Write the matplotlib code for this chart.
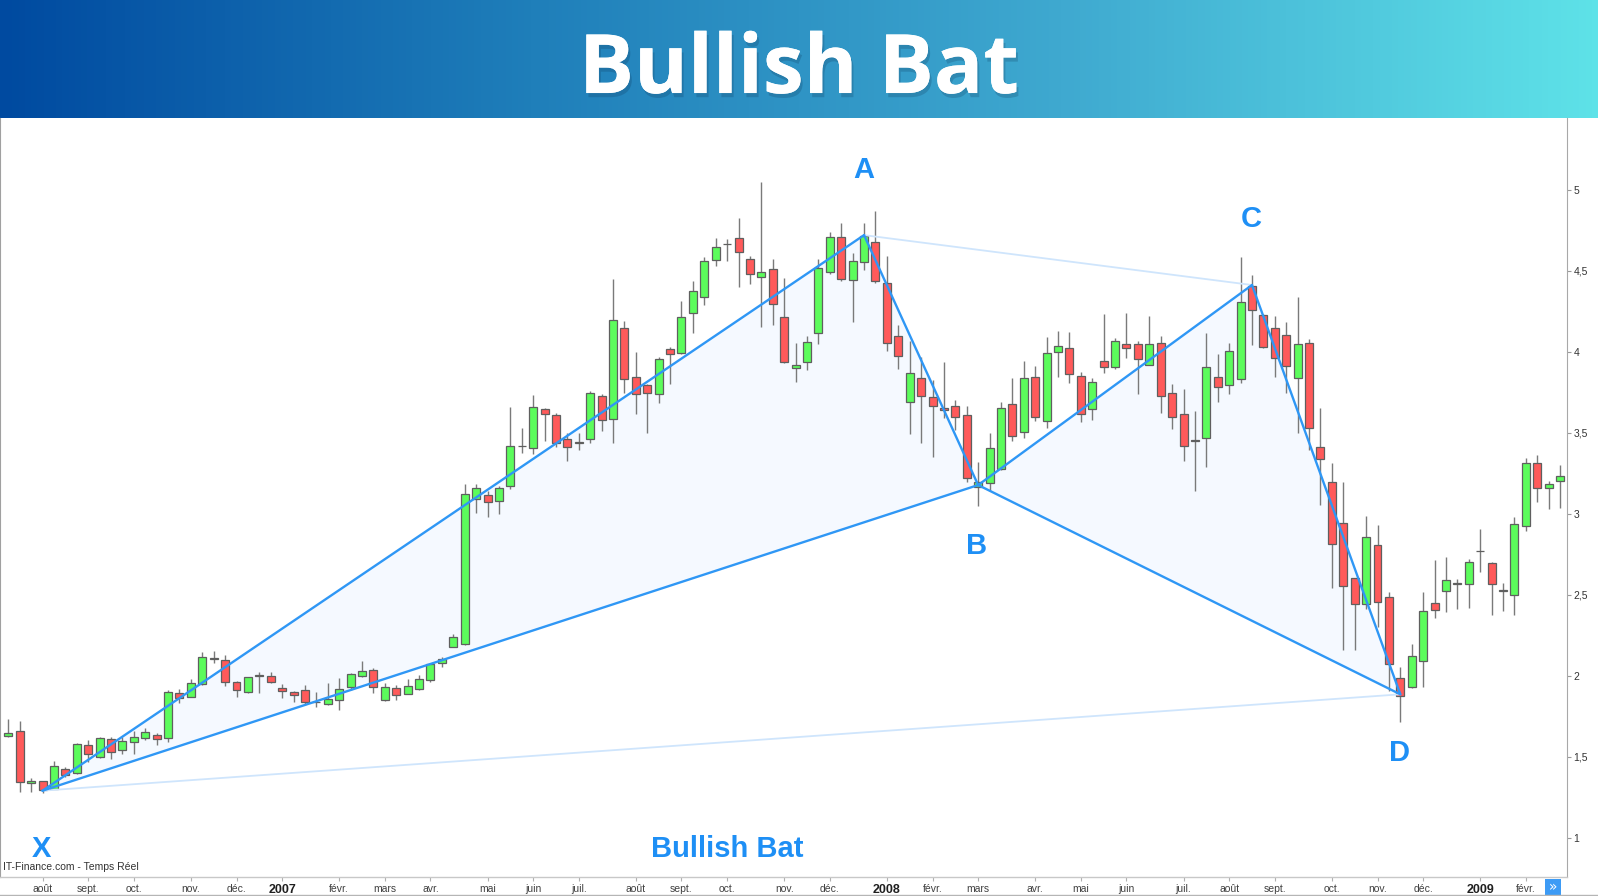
import matplotlib
matplotlib.use("Agg")
import matplotlib.pyplot as plt
import matplotlib.patheffects as pe
from matplotlib.colors import LinearSegmentedColormap
from matplotlib.patches import Polygon, Rectangle
from matplotlib.ticker import FuncFormatter, FixedLocator
import numpy as np

# Weekly OHLC candles (index 0 = mid-July 2006)
opens = [1.625, 1.657, 1.336, 1.348, 1.299, 1.422, 1.401, 1.570, 1.498, 1.607,
         1.539, 1.589, 1.614, 1.632, 1.614, 1.891, 1.870, 1.947, 2.105, 2.095,
         1.961, 1.898, 2.000, 1.996, 1.922, 1.898, 1.912, 1.836, 1.823, 1.850,
         1.928, 1.996, 2.033, 1.848, 1.922, 1.885, 1.916, 1.973, 2.077, 2.175,
         2.198, 3.089, 3.114, 3.077, 3.170, 3.418, 3.404, 3.644, 3.607, 3.459,
         3.436, 3.459, 3.728, 3.583, 4.148, 3.846, 3.796, 3.737, 4.019, 3.990,
         4.241, 4.340, 4.564, 4.663, 4.702, 4.574, 4.459, 4.512, 4.216, 3.901,
         3.935, 4.114, 4.494, 4.710, 4.443, 4.556, 4.679, 4.426, 4.099, 3.688,
         3.836, 3.719, 3.651, 3.667, 3.607, 3.167, 3.188, 3.276, 3.679, 3.502,
         3.846, 3.574, 3.996, 4.025, 3.852, 3.644, 3.944, 3.904, 4.048, 4.048,
         3.916, 4.056, 3.743, 3.614, 3.457, 3.465, 3.846, 3.793, 3.830, 4.407,
         4.225, 4.148, 4.105, 3.836, 4.052, 3.410, 3.194, 2.941, 2.601, 2.441,
         2.805, 2.488, 1.984, 1.928, 2.091, 2.447, 2.521, 2.566, 2.566, 2.768,
         2.694, 2.524, 2.498, 2.924, 3.315, 3.157, 3.202]
highs = [1.733, 1.720, 1.367, 1.350, 1.473, 1.438, 1.583, 1.603, 1.623, 1.623,
         1.620, 1.657, 1.675, 1.644, 1.912, 1.916, 1.980, 2.144, 2.152, 2.128,
         1.967, 1.994, 2.021, 2.023, 1.947, 1.906, 1.943, 1.901, 1.953, 1.984,
         2.015, 2.091, 2.046, 1.953, 1.943, 1.978, 2.004, 2.077, 2.114, 2.257,
         3.181, 3.181, 3.142, 3.171, 3.660, 3.527, 3.731, 3.650, 3.623, 3.496,
         3.496, 3.759, 3.739, 4.447, 4.191, 3.996, 3.800, 3.965, 4.031, 4.315,
         4.438, 4.586, 4.704, 4.698, 4.827, 4.590, 5.049, 4.570, 4.453, 4.052,
         4.097, 4.572, 4.741, 4.793, 4.607, 4.793, 4.869, 4.591, 4.165, 4.068,
         3.965, 3.825, 3.938, 3.702, 3.667, 3.321, 3.496, 3.691, 3.840, 3.943,
         3.914, 4.093, 4.128, 4.120, 3.877, 3.836, 4.231, 4.085, 4.237, 4.068,
         4.220, 4.099, 3.799, 3.768, 3.632, 4.114, 3.984, 4.052, 4.583, 4.473,
         4.230, 4.220, 4.181, 4.336, 4.077, 3.651, 3.311, 3.196, 2.605, 2.986,
         2.930, 2.519, 2.052, 2.196, 2.517, 2.714, 2.735, 2.595, 2.719, 2.904,
         2.704, 2.574, 2.978, 3.342, 3.362, 3.204, 3.301]
lows = [1.620, 1.284, 1.280, 1.274, 1.299, 1.377, 1.393, 1.469, 1.494, 1.484,
        1.517, 1.515, 1.603, 1.574, 1.593, 1.830, 1.867, 1.943, 2.080, 1.938,
        1.870, 1.895, 1.895, 1.953, 1.864, 1.840, 1.819, 1.805, 1.819, 1.788,
        1.912, 1.990, 1.891, 1.844, 1.850, 1.885, 1.912, 1.963, 2.052, 2.175,
        2.190, 3.002, 2.978, 2.996, 3.150, 3.377, 3.369, 3.451, 3.414, 3.327,
        3.393, 3.438, 3.512, 3.434, 3.743, 3.614, 3.496, 3.681, 3.799, 3.984,
        4.117, 4.288, 4.529, 4.562, 4.401, 4.418, 4.154, 4.165, 3.932, 3.815,
        3.887, 4.049, 4.481, 4.436, 4.185, 4.504, 4.422, 4.006, 3.893, 3.490,
        3.434, 3.352, 3.593, 3.517, 3.194, 3.049, 3.140, 3.270, 3.451, 3.469,
        3.572, 3.527, 3.842, 3.809, 3.568, 3.578, 3.867, 3.891, 3.959, 3.739,
        3.916, 3.623, 3.521, 3.327, 3.140, 3.286, 3.692, 3.739, 3.805, 4.041,
        4.021, 3.846, 3.747, 3.496, 3.393, 3.054, 2.540, 2.159, 2.159, 2.410,
        2.302, 1.907, 1.716, 1.922, 1.928, 2.354, 2.395, 2.410, 2.416, 2.642,
        2.373, 2.401, 2.373, 2.895, 3.074, 3.031, 3.037]
closes = [1.645, 1.342, 1.348, 1.294, 1.443, 1.385, 1.577, 1.515, 1.614, 1.527,
          1.595, 1.620, 1.651, 1.611, 1.899, 1.860, 1.953, 2.114, 2.108, 1.959,
          1.912, 1.990, 2.003, 1.959, 1.904, 1.879, 1.836, 1.838, 1.858, 1.920,
          2.009, 2.027, 1.930, 1.928, 1.879, 1.935, 1.978, 2.072, 2.105, 2.237,
          3.120, 3.157, 3.070, 3.157, 3.415, 3.420, 3.657, 3.614, 3.438, 3.410,
          3.440, 3.747, 3.577, 4.198, 3.830, 3.737, 3.743, 3.957, 3.988, 4.216,
          4.377, 4.562, 4.646, 4.667, 4.614, 4.481, 4.494, 4.293, 3.938, 3.918,
          4.062, 4.519, 4.710, 4.451, 4.562, 4.716, 4.438, 4.052, 3.975, 3.870,
          3.725, 3.667, 3.638, 3.595, 3.218, 3.198, 3.404, 3.651, 3.480, 3.836,
          3.595, 3.994, 4.037, 3.860, 3.614, 3.815, 3.907, 4.068, 4.025, 3.953,
          4.049, 3.727, 3.595, 3.416, 3.447, 3.907, 3.780, 4.006, 4.309, 4.256,
          4.031, 3.959, 3.910, 4.049, 3.527, 3.336, 2.811, 2.554, 2.441, 2.854,
          2.453, 2.070, 1.877, 2.123, 2.401, 2.406, 2.593, 2.570, 2.704, 2.772,
          2.566, 2.526, 2.935, 3.315, 3.157, 3.181, 3.231]

# Bat pattern pivots: (week index, price)
pivot_names = ["X", "A", "B", "C", "D"]
pivot_idx = [3, 75, 85, 109, 122]
pivot_price = [1.29, 4.72, 3.177, 4.412, 1.885]

# Month axis: week index of each label
month_idx = [3, 7, 11, 16, 20, 24, 29, 33, 37, 42, 46, 50, 55, 59, 63, 68, 72,
             77, 81, 85, 90, 94, 98, 103, 107, 111, 116, 120, 124, 129, 133]
month_labels = ["août", "sept.", "oct.", "nov.", "déc.", "2007", "févr.", "mars",
                "avr.", "mai", "juin", "juil.", "août", "sept.", "oct.", "nov.",
                "déc.", "2008", "févr.", "mars", "avr.", "mai", "juin", "juil.",
                "août", "sept.", "oct.", "nov.", "déc.", "2009", "févr."]
price_ticks = [1, 1.5, 2, 2.5, 3, 3.5, 4, 4.5, 5]

W, H = 1598, 896
fig = plt.figure(figsize=(W / 100, H / 100), dpi=100)
fig.patch.set_facecolor("white")

# ---- title banner ----
banner_h = 118.5
bax = fig.add_axes([0, 1 - banner_h / H, 1, banner_h / H])
cmap = LinearSegmentedColormap.from_list(
    "banner", ["#004aa0", "#1f7fba", "#3fa9d0", "#5ee2e8"])
grad = np.linspace(0, 1, 512).reshape(1, -1)
bax.imshow(grad, aspect="auto", cmap=cmap, extent=[0, 1, 0, 1])
bax.set_xlim(0, 1)
bax.set_ylim(0, 1)
bax.axis("off")
bax.text(0.5, 0.215, "Bullish Bat", color="white", fontsize=59,
         fontfamily="Open Sans", fontweight="bold", ha="center", va="baseline",
         path_effects=[pe.withSimplePatchShadow(offset=(1.5, -3), shadow_rgbFace="#0a2a4a",
                                                alpha=0.2), pe.Normal()])

# ---- price chart ----
bottom_px = 876.7
right_px = 1567
ax = fig.add_axes([0, 1 - bottom_px / H, right_px / W, (bottom_px - banner_h) / H])
spacing = 11.41
first_px = 8.3
ax.set_xlim((0 - first_px) / spacing, (right_px - first_px) / spacing)
ax.set_ylim(0.759, 5.44)

n = len(opens)
xs = np.arange(n)
o = np.array(opens)
c = np.array(closes)
up = c >= o
body_bottom = np.minimum(o, c)
body_height = np.abs(c - o)

# pattern triangles
X, A, B, C, D = [(pivot_idx[i], pivot_price[i]) for i in range(5)]
for tri in ([X, A, B], [B, C, D]):
    ax.add_patch(Polygon(tri, closed=True, facecolor="#f5f9ff", edgecolor="none", zorder=0))

# wicks then bodies
ax.vlines(xs, lows, highs, color="#7a7a7a", linewidth=1.0, zorder=2)
ax.bar(xs[up], body_height[up], bottom=body_bottom[up], width=0.7,
       color="#5cfc5c", edgecolor="#5f5f5f", linewidth=0.9, zorder=3)
ax.bar(xs[~up], body_height[~up], bottom=body_bottom[~up], width=0.7,
       color="#ff5a5a", edgecolor="#5f5f5f", linewidth=0.9, zorder=3)

# pattern legs
line_c = "#2f97f5"
faint_c = "#cfe5fc"
for p, q in ((X, D), (A, C)):
    ax.plot([p[0], q[0]], [p[1], q[1]], color=faint_c, lw=1.3, zorder=4,
            solid_capstyle="round")
for p, q in ((X, A), (A, B), (B, C), (C, D), (X, B), (B, D)):
    ax.plot([p[0], q[0]], [p[1], q[1]], color=line_c, lw=1.7, zorder=5,
            solid_capstyle="round")

label_c = "#1e8ff5"
label_pos = {"A": (75.0, 5.12), "B": (84.9, 2.80), "C": (108.9, 4.82),
             "D": (121.9, 1.52), "X": (2.9, 0.93)}
for name in pivot_names:
    lx, ly = label_pos[name]
    ax.text(lx, ly, name, color=label_c, fontsize=21, fontweight="bold",
            fontfamily="Liberation Sans", ha="center", va="center", zorder=6)
ax.text(63.0, 0.93, "Bullish Bat", color=label_c, fontsize=21, fontweight="bold",
        fontfamily="Liberation Sans", ha="center", va="center", zorder=6)
ax.text(0.002, 0.006, "IT-Finance.com - Temps Réel", transform=ax.transAxes,
        fontsize=7.5, fontfamily="Liberation Sans", color="#333333",
        ha="left", va="bottom", zorder=6)

# axes styling
ax.spines["top"].set_visible(False)
ax.spines["left"].set_color("#a0a0a0")
ax.spines["right"].set_color("#a8a8a8")
ax.spines["bottom"].set_color("#c8c8c8")
ax.spines["bottom"].set_linewidth(1.0)

ax.yaxis.tick_right()
ax.yaxis.set_major_locator(FixedLocator(price_ticks))
ax.yaxis.set_major_formatter(FuncFormatter(
    lambda v, _: (f"{v:g}").replace(".", ",")))
ax.tick_params(axis="y", direction="out", length=3, width=0.8, color="#9a9a9a",
               pad=1.5, labelsize=7.5, labelcolor="#333333")
ax.xaxis.set_major_locator(FixedLocator(month_idx))
ax.set_xticklabels(month_labels)
ax.tick_params(axis="x", direction="out", length=3, width=0.8, color="#b0b0b0",
               pad=2.5, labelsize=7.5, labelcolor="#404040")
for lab in ax.get_xticklabels() + ax.get_yticklabels():
    lab.set_fontfamily("Liberation Sans")
for lab in ax.get_xticklabels():
    if lab.get_text().isdigit():
        lab.set_fontweight("bold")
        lab.set_fontsize(9)
        lab.set_color("#202020")

# bottom frame line and scroll button
fig.add_artist(plt.Line2D([0, 1], [0.6 / H, 0.6 / H], transform=fig.transFigure,
                          color="#b5b5b5", lw=1.0))
fig.add_artist(Rectangle((1545 / W, 1 / H), 16 / W, 16 / H, transform=fig.transFigure,
                         facecolor="#3d9bf5", edgecolor="none"))
fig.text(1553 / W, 9 / H, "»", color="white", fontsize=10, ha="center", va="center",
         fontfamily="DejaVu Sans")

fig.savefig("out.png", dpi=100, facecolor="white")
